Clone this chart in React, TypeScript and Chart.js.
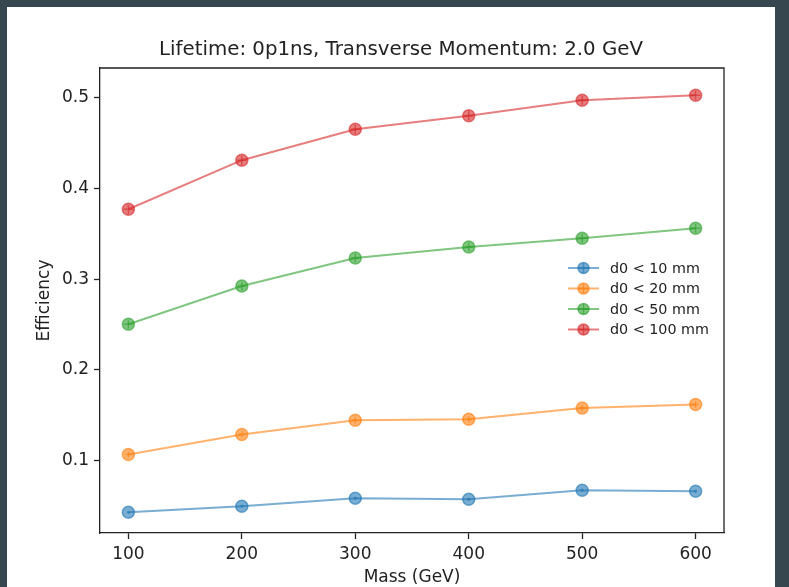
import { useEffect, useRef } from "react";
import { Chart, registerables } from "chart.js";

Chart.register(...registerables);

// Signal efficiency vs. mass for several transverse impact parameter cuts
const masses = [100, 200, 300, 400, 500, 600];
const effD0Lt10 = [0.0433, 0.0499, 0.0587, 0.0576, 0.0675, 0.0664];
const effD0Lt20 = [0.107, 0.129, 0.1446, 0.1457, 0.158, 0.162];
const effD0Lt50 = [0.2503, 0.2924, 0.3233, 0.3354, 0.345, 0.356];
const effD0Lt100 = [0.377, 0.431, 0.465, 0.48, 0.497, 0.5025];

// statistical uncertainties on each efficiency
const errD0Lt10 = [0.0018, 0.0018, 0.002, 0.002, 0.002, 0.002];
const errD0Lt20 = [0.003, 0.0032, 0.0034, 0.0034, 0.0035, 0.0035];
const errD0Lt50 = [0.0045, 0.0046, 0.0047, 0.0047, 0.0048, 0.0048];
const errD0Lt100 = [0.005, 0.005, 0.005, 0.005, 0.005, 0.005];

const seriesLabels = ["d0 < 10 mm", "d0 < 20 mm", "d0 < 50 mm", "d0 < 100 mm"];
const seriesRgb = ["31,119,180", "255,127,14", "44,160,44", "214,39,40"];

const xTicks = [100, 200, 300, 400, 500, 600];
const yTicks = [0.1, 0.2, 0.3, 0.4, 0.5];

const chartTitle = "Lifetime: 0p1ns, Transverse Momentum: 2.0 GeV";
const xTitle = "Mass (GeV)";
const yTitle = "Efficiency";

const FONT = "'DejaVu Sans', sans-serif";
const INK = "#222222";
const ALPHA = 0.6;

const rgba = (rgb: string, a: number) => `rgba(${rgb},${a})`;

const seriesValues = [effD0Lt10, effD0Lt20, effD0Lt50, effD0Lt100];
const seriesErrors = [errD0Lt10, errD0Lt20, errD0Lt50, errD0Lt100];

// Error bars, frame, title and in-axes legend
const decorations = {
  id: "decorations",
  afterDatasetsDraw(chart: any) {
    const { ctx, chartArea } = chart;
    const yScale = chart.scales.y;
    ctx.save();

    // error bars
    chart.data.datasets.forEach((ds: any, i: number) => {
      const meta = chart.getDatasetMeta(i);
      const errs = seriesErrors[i];
      ctx.strokeStyle = rgba(seriesRgb[i], ALPHA);
      ctx.lineWidth = 1.5;
      meta.data.forEach((pt: any, j: number) => {
        const v = ds.data[j].y;
        const yTop = yScale.getPixelForValue(v + errs[j]);
        const yBot = yScale.getPixelForValue(v - errs[j]);
        const half = (yBot - yTop) / 2;
        ctx.beginPath();
        ctx.moveTo(pt.x, yTop);
        ctx.lineTo(pt.x, yBot);
        ctx.moveTo(pt.x - half, pt.y);
        ctx.lineTo(pt.x + half, pt.y);
        ctx.stroke();
      });
    });

    // axes frame (top and right edges)
    ctx.strokeStyle = INK;
    ctx.lineWidth = 1.3;
    ctx.beginPath();
    ctx.moveTo(chartArea.left, chartArea.top);
    ctx.lineTo(chartArea.right, chartArea.top);
    ctx.lineTo(chartArea.right, chartArea.bottom);
    ctx.stroke();

    // title
    ctx.fillStyle = INK;
    ctx.font = `19.8px ${FONT}`;
    ctx.textAlign = "center";
    ctx.textBaseline = "alphabetic";
    ctx.fillText(chartTitle, (chartArea.left + chartArea.right) / 2 - 11, 48);

    // legend
    const rowY0 = 261;
    const rowStep = 20.5;
    const handleL = 561;
    const handleR = 592;
    const textX = 603;
    ctx.font = `14.3px ${FONT}`;
    ctx.textAlign = "left";
    ctx.textBaseline = "middle";
    seriesLabels.forEach((label, i) => {
      const y = rowY0 + i * rowStep;
      const c = rgba(seriesRgb[i], ALPHA);
      const cx = (handleL + handleR) / 2;
      ctx.strokeStyle = c;
      ctx.lineWidth = 2;
      ctx.beginPath();
      ctx.moveTo(handleL, y);
      ctx.lineTo(handleR, y);
      ctx.stroke();
      ctx.fillStyle = c;
      ctx.lineWidth = 1.5;
      ctx.beginPath();
      ctx.arc(cx, y, 5.5, 0, Math.PI * 2);
      ctx.fill();
      ctx.stroke();
      ctx.beginPath();
      ctx.moveTo(cx, y - 5);
      ctx.lineTo(cx, y + 5);
      ctx.moveTo(cx - 5, y);
      ctx.lineTo(cx + 5, y);
      ctx.stroke();
      ctx.fillStyle = INK;
      ctx.fillText(label, textX, y + 1);
    });

    ctx.restore();
  },
};

export default function App() {
  const canvasRef = useRef<HTMLCanvasElement | null>(null);

  useEffect(() => {
    const canvas = canvasRef.current;
    if (!canvas) return;

    const datasets = seriesLabels.map((label, i) => ({
      label,
      data: masses.map((m, j) => ({ x: m, y: seriesValues[i][j] })),
      borderColor: rgba(seriesRgb[i], ALPHA),
      backgroundColor: rgba(seriesRgb[i], ALPHA),
      pointBackgroundColor: rgba(seriesRgb[i], ALPHA),
      pointBorderColor: rgba(seriesRgb[i], ALPHA),
      borderWidth: 2,
      pointRadius: 6,
      pointBorderWidth: 1.5,
      pointHoverRadius: 6,
      tension: 0,
      fill: false,
    }));

    const chart = new Chart(canvas, {
      type: "line",
      data: { datasets },
      plugins: [decorations],
      options: {
        animation: false,
        responsive: false,
        events: [],
        layout: { padding: { top: 61, right: 51, left: 0, bottom: 0 } },
        plugins: {
          legend: { display: false },
          title: { display: false },
          tooltip: { enabled: false },
        },
        scales: {
          x: {
            type: "linear",
            min: 75,
            max: 625,
            afterBuildTicks: (scale: any) => {
              scale.ticks = xTicks.map((v) => ({ value: v }));
            },
            afterFit: (scale: any) => {
              scale.height = 55;
            },
            ticks: {
              color: INK,
              font: { family: FONT, size: 17 },
              padding: 5,
              maxRotation: 0,
              autoSkip: false,
              callback: (v: any) => String(v),
            },
            grid: {
              drawOnChartArea: false,
              drawTicks: true,
              tickLength: 6,
              tickColor: INK,
              tickWidth: 1.3,
            },
            border: { display: true, color: INK, width: 1.3 },
            title: {
              display: true,
              text: xTitle,
              color: INK,
              font: { family: FONT, size: 17 },
              padding: { top: 0, bottom: 0 },
            },
          },
          y: {
            type: "linear",
            min: 0.0205,
            max: 0.5325,
            afterBuildTicks: (scale: any) => {
              scale.ticks = yTicks.map((v) => ({ value: v }));
            },
            afterFit: (scale: any) => {
              scale.width = 93;
            },
            ticks: {
              color: INK,
              font: { family: FONT, size: 17 },
              padding: 5,
              autoSkip: false,
              callback: (v: any) => Number(v).toFixed(1),
            },
            grid: {
              drawOnChartArea: false,
              drawTicks: true,
              tickLength: 6,
              tickColor: INK,
              tickWidth: 1.3,
            },
            border: { display: true, color: INK, width: 1.3 },
            title: {
              display: true,
              text: yTitle,
              color: INK,
              font: { family: FONT, size: 17 },
              padding: { top: 27, bottom: 0 },
            },
          },
        },
      },
    } as any);

    return () => chart.destroy();
  }, []);

  return (
    <div style={{ position: "fixed", inset: 0, background: "#37474f" }}>
      <div
        style={{
          position: "absolute",
          left: 7,
          top: 7,
          width: 768,
          height: 581,
          background: "#ffffff",
        }}
      >
        <canvas
          ref={canvasRef}
          width={768}
          height={581}
          style={{ display: "block", width: 768, height: 581 }}
        />
      </div>
    </div>
  );
}
